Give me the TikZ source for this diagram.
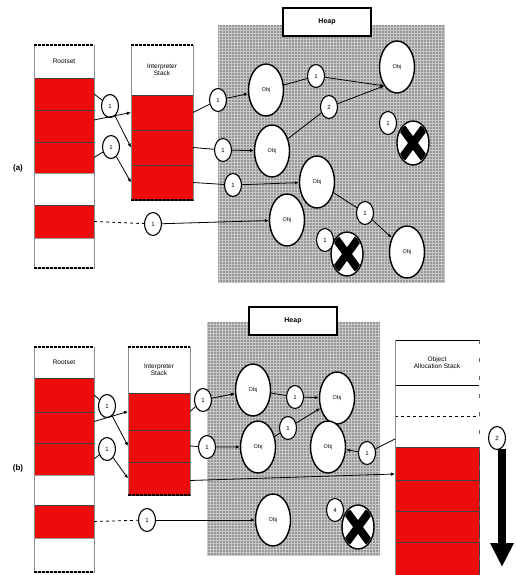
\documentclass[tikz,border=0pt]{standalone}
\usepackage{fontspec}
\setmainfont{Liberation Sans}
\usetikzlibrary{shapes.geometric,arrows.meta}
\definecolor{cellred}{RGB}{236,12,12}
\definecolor{heapgray}{RGB}{150,150,150}
\definecolor{heapgrid}{RGB}{200,200,200}
\tikzset{
  cell/.style={draw=black!75, line width=0.7pt, minimum width=#1, inner sep=0pt, anchor=north west, outer sep=0pt},
  redcell/.style={cell=#1, fill=cellred},
  whitecell/.style={cell=#1, fill=white, draw=black!40},
  headcell/.style={cell=#1, fill=white, draw=none, font=\fontsize{6.5}{7}\selectfont, align=center},
  frameside/.style={draw=black!45, line width=0.5pt},
  frameedge/.style={draw=black, line width=1.2pt, dash pattern=on 3pt off 1pt},
  obj/.style={ellipse, draw=black, line width=1.4pt, fill=white, minimum width=35pt, minimum height=52pt, inner sep=0pt, font=\fontsize{5.5}{6}\selectfont},
  cnt/.style={ellipse, draw=black, line width=1.1pt, fill=white, minimum width=17pt, minimum height=23pt, inner sep=0pt, font=\fontsize{6}{6}\selectfont},
  dead/.style={ellipse, draw=black, line width=1.4pt, fill=white, minimum width=32pt, minimum height=44pt, inner sep=0pt},
  heaplabel/.style={draw=black, line width=1.4pt, fill=white, minimum width=88pt, minimum height=28pt, font=\bfseries\fontsize{7}{8}\selectfont},
  link/.style={draw=black, line width=0.8pt},
  arr/.style={link, -{Latex[length=4pt,width=3.5pt]}},
  partlabel/.style={font=\bfseries\fontsize{8}{9}\selectfont}
}
% thick black cross over a dead object
\newcommand{\deadmark}[1]{%
  \begin{scope}
  \clip (#1.center) ellipse (15pt and 21pt);
  \draw[black, line width=8pt] ([shift={(-11pt,-15pt)}]#1.center) -- ([shift={(11pt,15pt)}]#1.center);
  \draw[black, line width=8pt] ([shift={(11pt,-15pt)}]#1.center) -- ([shift={(-11pt,15pt)}]#1.center);
  \fill[black] (#1.center) ellipse (5pt and 7pt);
  \end{scope}}
\begin{document}
\begin{tikzpicture}[x=1pt,y=-1pt]
\useasboundingbox (0,0) rectangle (515,575);
\fill[white] (0,0) rectangle (515,575);

% ---------------- part (a) ----------------
\node[partlabel] (laba) at (18,168) {(a)};

% heap area
\fill[heapgray] (218,25) rectangle (445,282);
\draw[heapgrid, line width=0.5pt, step=3pt] (218,25) grid (445,282);
\node[heaplabel] (heapa) at (327,22) {Heap};

% rootset
\node[headcell=60pt, minimum height=33pt] (ra0) at (34,45) {Rootset};
\node[redcell=60pt, minimum height=32pt] (ra1) at (34,78) {};
\node[redcell=60pt, minimum height=32pt] (ra2) at (34,110) {};
\node[redcell=60pt, minimum height=31pt] (ra3) at (34,142) {};
\node[whitecell=60pt, minimum height=32pt] (ra4) at (34,173) {};
\node[redcell=60pt, minimum height=33pt] (ra5) at (34,205) {};
\node[whitecell=60pt, minimum height=30pt] (ra6) at (34,238) {};
\draw[frameside] (34,45) -- (34,268) (94,45) -- (94,268);
\draw[frameedge] (34,45) -- (94,45) (34,268) -- (94,268);

% interpreter stack
\node[headcell=62pt, minimum height=50pt] (ia0) at (131,45) {Interpreter\\Stack};
\node[redcell=62pt, minimum height=35pt] (ia1) at (131,95) {};
\node[redcell=62pt, minimum height=35pt] (ia2) at (131,130) {};
\node[redcell=62pt, minimum height=35pt] (ia3) at (131,165) {};
\draw[frameside] (131,45) -- (131,200) (193,45) -- (193,200);
\draw[frameedge] (131,45) -- (193,45) (131,200) -- (193,200);

% heap objects
\node[obj] (oa1) at (266,90) {Obj};
\node[obj] (oa2) at (397,67) {Obj};
\node[obj] (oa3) at (272,151) {Obj};
\node[obj] (oa4) at (317,182) {Obj};
\node[obj] (oa5) at (287,220) {Obj};
\node[obj] (oa6) at (407,252) {Obj};
\node[dead] (xa1) at (413,143) {};
\node[dead] (xa2) at (347,254) {};
\deadmark{xa1}
\deadmark{xa2}

% reference counts
\node[cnt] (ca1) at (110,106) {1};
\node[cnt] (ca2) at (111,147) {1};
\node[cnt] (ca3) at (218,100) {1};
\node[cnt] (ca4) at (223,150) {1};
\node[cnt] (ca5) at (233,185) {1};
\node[cnt] (ca6) at (153,224) {1};
\node[cnt] (ca7) at (316,76) {1};
\node[cnt] (ca8) at (329,107) {2};
\node[cnt] (ca9) at (388,123) {1};
\node[cnt] (ca10) at (365,213) {1};
\node[cnt] (ca11) at (325,240) {1};

% references
\draw[arr] (ra1.east) -- (ca1) -- (ia2.west);
\draw[arr] ([yshift=6pt]ra2.east) -- (ia1.west);
\draw[arr] (ra3.east) -- (ca2) -- (ia3.west);
\draw[arr] (ia1.east) -- (ca3) -- (oa1);
\draw[arr] (ia2.east) -- (ca4) -- (oa3);
\draw[arr] (ia3.east) -- (ca5) -- (oa4);
\draw[link, dashed] (ra5.east) -- (ca6);
\draw[arr] (ca6) -- (oa5);
\draw[link] (oa1) -- (ca7);
\draw[arr] (ca7) -- (oa2.south west);
\draw[link] (oa3) -- (ca8);
\draw[arr] (ca8) -- (oa2.south west);
\draw[link] (oa4) -- (ca10);
\draw[arr] (ca10) -- (oa6);

% ---------------- part (b) ----------------
\node[partlabel] (labb) at (18,468) {(b)};

% heap area
\fill[heapgray] (207,322) rectangle (380,555);
\draw[heapgrid, line width=0.5pt, step=3pt] (207,322) grid (380,555);
\node[heaplabel] (heapb) at (293,321) {Heap};

% rootset
\node[headcell=60pt, minimum height=31pt] (rb0) at (34,347) {Rootset};
\node[redcell=60pt, minimum height=34pt] (rb1) at (34,378) {};
\node[redcell=60pt, minimum height=31pt] (rb2) at (34,412) {};
\node[redcell=60pt, minimum height=32pt] (rb3) at (34,443) {};
\node[whitecell=60pt, minimum height=30pt] (rb4) at (34,475) {};
\node[redcell=60pt, minimum height=33pt] (rb5) at (34,505) {};
\node[whitecell=60pt, minimum height=34pt] (rb6) at (34,538) {};
\draw[frameside] (34,347) -- (34,572) (94,347) -- (94,572);
\draw[frameedge] (34,347) -- (94,347) (34,572) -- (94,572);

% interpreter stack
\node[headcell=62pt, minimum height=46pt] (ib0) at (128,347) {Interpreter\\Stack};
\node[redcell=62pt, minimum height=37pt] (ib1) at (128,393) {};
\node[redcell=62pt, minimum height=32pt] (ib2) at (128,430) {};
\node[redcell=62pt, minimum height=33pt] (ib3) at (128,462) {};
\draw[frameside] (128,347) -- (128,495) (190,347) -- (190,495);
\draw[frameedge] (128,347) -- (190,347) (128,495) -- (190,495);

% object allocation stack
\node[headcell=84pt, minimum height=45pt] (ob0) at (395,340) {Object\\Allocation Stack};
\node[whitecell=84pt, minimum height=31pt, draw=none] (ob1) at (395,385) {};
\node[whitecell=84pt, minimum height=31pt, draw=none] (ob2) at (395,416) {};
\node[redcell=84pt, minimum height=33pt] (ob3) at (395,447) {};
\node[redcell=84pt, minimum height=31pt] (ob4) at (395,480) {};
\node[redcell=84pt, minimum height=31pt] (ob5) at (395,511) {};
\node[redcell=84pt, minimum height=34pt] (ob6) at (395,542) {};
\draw[draw=black, line width=0.9pt] (395,340) -- (479,340) (395,385) -- (479,385);
\draw[draw=black, line width=0.8pt, dashed] (395,416) -- (479,416);
\draw[frameside] (395,340) -- (395,575);
\draw[draw=black!60, line width=0.6pt, dash pattern=on 4pt off 14pt] (479,340) -- (479,575);

% heap objects
\node[obj] (ob_o1) at (253,390) {Obj};
\node[obj] (ob_o2) at (337,398) {Obj};
\node[obj] (ob_o3) at (258,447) {Obj};
\node[obj] (ob_o4) at (328,447) {Obj};
\node[obj] (ob_o5) at (273,520) {Obj};
\node[dead] (xb1) at (358,527) {};
\deadmark{xb1}

% reference counts
\node[cnt] (cb1) at (107,406) {1};
\node[cnt] (cb2) at (107,449) {1};
\node[cnt] (cb3) at (203,400) {1};
\node[cnt] (cb4) at (207,447) {1};
\node[cnt] (cb5) at (147,520) {1};
\node[cnt] (cb6) at (295,397) {1};
\node[cnt] (cb7) at (288,428) {1};
\node[cnt] (cb8) at (367,453) {1};
\node[cnt] (cb9) at (335,510) {4};

% references
\draw[arr] (rb1.east) -- (cb1) -- (ib2.west);
\draw[arr] ([yshift=6pt]rb2.east) -- (ib1.west);
\draw[arr] (rb3.east) -- (cb2) -- (ib3.west);
\draw[arr] (ib1.east) -- (cb3) -- (ob_o1);
\draw[arr] (ib2.east) -- (cb4) -- (ob_o3);
\draw[arr] ([yshift=-2pt]ib3.east) -- ([yshift=6pt]ob4.north west);
\draw[link, dashed] (rb5.east) -- (cb5);
\draw[arr] (cb5) -- (ob_o5);
\draw[link] (ob_o1) -- (cb6);
\draw[arr] (cb6) -- (ob_o2);
\draw[link] (ob_o3) -- (cb7);
\draw[arr] (cb7) -- (ob_o2);
\draw[link] ([yshift=8pt]ob3.north west) -- (cb8);
\draw[arr] (cb8) -- (ob_o4);

% allocation direction
\node[cnt] (cb10) at (497,438) {2};
\coordinate (dirstart) at (502,449);
\coordinate (dirend) at (502,567);
\draw[line width=8pt, -{Triangle[width=22pt,length=24pt]}] (dirstart) -- (dirend);
\end{tikzpicture}
\end{document}
